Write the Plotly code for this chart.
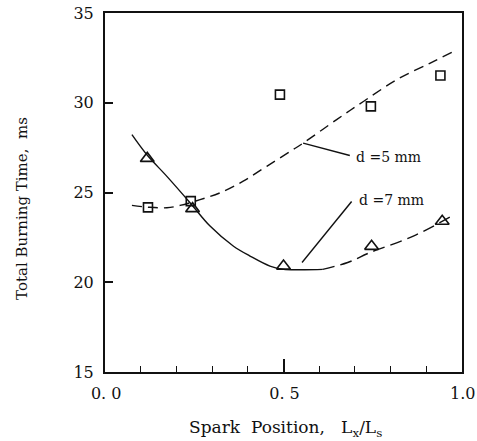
import plotly.graph_objects as go

# Measured points
spark_pos = [0.12, 0.24, 0.49, 0.745, 0.94]
time_d5 = [24.17, 24.52, 30.45, 29.8, 31.52]
spark_pos_t = [0.118, 0.245, 0.50, 0.747, 0.945]
time_d7 = [26.9, 24.1, 20.9, 22.0, 23.4]

# Fitted curves
fit5_x = [0.075, 0.121, 0.173, 0.21, 0.266, 0.322, 0.387, 0.453, 0.527, 0.555, 0.649, 0.724, 0.817, 0.91, 0.976]
fit5_y = [24.28, 24.18, 24.15, 24.28, 24.6, 24.98, 25.63, 26.46, 27.39, 27.75, 29.06, 30.07, 31.28, 32.2, 32.85]
fit7a_x = [0.075, 0.117, 0.173, 0.238, 0.294, 0.359, 0.406, 0.462, 0.50, 0.56, 0.61]
fit7a_y = [28.22, 27.1, 25.9, 24.43, 23.13, 22.02, 21.46, 20.9, 20.72, 20.7, 20.72]
fit7b_x = [0.61, 0.68, 0.742, 0.864, 0.98]
fit7b_y = [20.72, 21.1, 21.65, 22.57, 23.78]

x_ticks = [0.0, 0.5, 1.0]
x_ticktext = ["0. 0", "0. 5", "1.0"]
y_ticks = [15, 20, 25, 30, 35]

label5 = "d =5 mm"
label7 = "d =7 mm"
lead5 = [(0.555, 27.75), (0.686, 27.06)]
lead7 = [(0.691, 24.5), (0.552, 21.1)]
txt5 = (0.697, 26.96)
txt7 = (0.706, 24.57)

FONT = "DejaVu Serif, serif"
INK = "#111111"

fig = go.Figure()
fig.add_trace(go.Scatter(x=fit5_x, y=fit5_y, mode="lines",
                         line=dict(color=INK, width=1.4, dash="10px,6px", shape="spline"),
                         showlegend=False, hoverinfo="skip"))
fig.add_trace(go.Scatter(x=fit7a_x, y=fit7a_y, mode="lines",
                         line=dict(color=INK, width=1.4, shape="spline"),
                         showlegend=False, hoverinfo="skip"))
fig.add_trace(go.Scatter(x=fit7b_x, y=fit7b_y, mode="lines",
                         line=dict(color=INK, width=1.4, dash="12px,6px", shape="spline"),
                         showlegend=False, hoverinfo="skip"))
fig.add_trace(go.Scatter(x=spark_pos, y=time_d5, mode="markers",
                         marker=dict(symbol="square-open", size=9, color=INK, line=dict(width=1.6)),
                         showlegend=False))
fig.add_trace(go.Scatter(x=spark_pos_t, y=time_d7, mode="markers",
                         marker=dict(symbol="triangle-up-open", size=12, color=INK, line=dict(width=1.6)),
                         showlegend=False))

for (p0, p1) in [lead5, lead7]:
    fig.add_shape(type="line", x0=p0[0], y0=p0[1], x1=p1[0], y1=p1[1],
                  xref="x", yref="y", line=dict(color=INK, width=1.4))

for (pos, txt) in [(txt5, label5), (txt7, label7)]:
    fig.add_annotation(x=pos[0], y=pos[1], xref="x", yref="y", text=txt,
                       showarrow=False, xanchor="left", yanchor="middle",
                       font=dict(family=FONT, size=14, color=INK))

fig.add_annotation(x=0.507, y=-0.156, xref="paper", yref="paper",
                   text="Spark  Position,   L<sub>x</sub>/L<sub>s</sub>",
                   showarrow=False, xanchor="center", yanchor="middle",
                   font=dict(family=FONT, size=17, color=INK))
fig.add_annotation(x=-0.2325, y=0.457, xref="paper", yref="paper",
                   text="Total Burning Time,  ms", textangle=-90,
                   showarrow=False, xanchor="center", yanchor="middle",
                   font=dict(family=FONT, size=15, color=INK))

fig.update_layout(
    width=477, height=441,
    margin=dict(l=105, r=15, t=13, b=69, autoexpand=False),
    paper_bgcolor="white", plot_bgcolor="white",
    font=dict(family=FONT, color=INK),
)
fig.update_xaxes(range=[-0.0005, 1.0005], tickvals=x_ticks, ticktext=x_ticktext,
                 ticks="inside", ticklen=13, tickwidth=1.5, tickcolor=INK,
                 minor=dict(dtick=0.1, ticks="inside", ticklen=6, tickwidth=1.3, tickcolor=INK),
                 showline=True, linewidth=2, linecolor=INK, mirror=True,
                 showgrid=False, zeroline=False, automargin=False,
                 tickfont=dict(family=FONT, size=16, color=INK),
                 ticklabelstandoff=6, ticklabelshift=1, ticklabeloverflow="allow")
fig.update_yaxes(range=[15, 35], tickvals=y_ticks,
                 ticks="inside", ticklen=8, tickwidth=1.5, tickcolor=INK,
                 showline=True, linewidth=2, linecolor=INK, mirror=True,
                 showgrid=False, zeroline=False, automargin=False,
                 tickfont=dict(family=FONT, size=16, color=INK),
                 ticklabelstandoff=6, ticklabeloverflow="allow")

fig.write_html("out.html")
